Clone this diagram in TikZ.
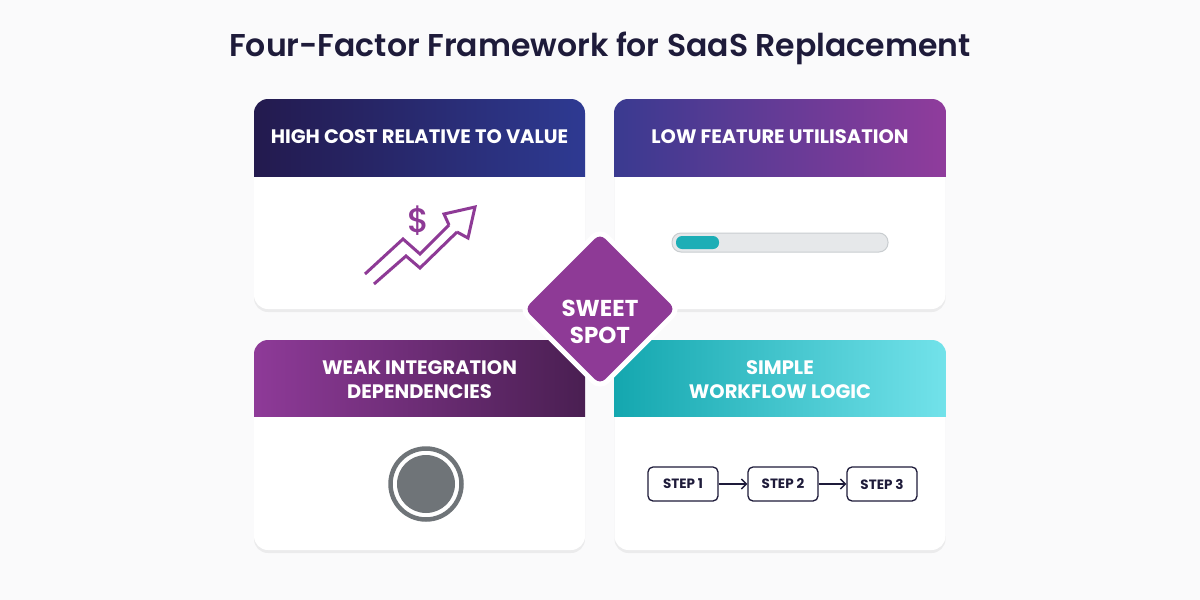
\documentclass[tikz,border=0pt]{standalone}
\usepackage{fontspec}
\setmainfont{Poppins}
\usetikzlibrary{shadows,shapes.geometric,arrows.meta}
\definecolor{ink}{HTML}{1E1B3A}
\definecolor{plum}{HTML}{8E3A96}
\definecolor{bgc}{HTML}{FAFAFB}
\definecolor{ca}{HTML}{231A4E}\definecolor{cb}{HTML}{2E3A92}
\definecolor{cc}{HTML}{3A3A90}\definecolor{cd}{HTML}{903C9C}
\definecolor{ce}{HTML}{8E3A98}\definecolor{cf}{HTML}{4A1F52}
\definecolor{cg}{HTML}{14A7AF}\definecolor{ch}{HTML}{72E2EA}
\definecolor{barbg}{HTML}{E6E8EA}\definecolor{barbd}{HTML}{C9CDD0}
\definecolor{barfill}{HTML}{1DAEB6}\definecolor{greyc}{HTML}{6F7478}
\tikzset{
 card/.style={draw=none,fill=white,rounded corners=14pt,minimum width=331pt,minimum height=210pt,
   drop shadow={shadow xshift=0pt,shadow yshift=-3pt,opacity=0.12}},
 htext/.style={text=white,font=\bfseries\fontsize{19.5}{24}\selectfont,align=center},
 stepbox/.style={draw=ink,line width=1.3pt,rounded corners=5pt,minimum width=70pt,minimum height=34pt,font=\bfseries\fontsize{13.5}{15}\selectfont,text=ink},
}
\begin{document}
\begin{tikzpicture}[x=1pt,y=-1pt]
\fill[bgc] (0,0) rectangle (1200,600);
\useasboundingbox (0,0) rectangle (1200,600);
\node[text=ink,font=\fontspec{Poppins SemiBold}\fontsize{31.5}{35}\selectfont] (title) at (600,48) {Four-Factor Framework for SaaS Replacement};
% cards
\node[card] (tl) at (419.5,204) {};
\node[card] (tr) at (780,204) {};
\node[card] (bl) at (419.5,445) {};
\node[card] (br) at (780,445) {};
\begin{scope}\clip[rounded corners=14pt] (254,99) rectangle (585,309);
 \shade[left color=ca,right color=cb] (254,99) rectangle (585,176);\end{scope}
\begin{scope}\clip[rounded corners=14pt] (614,99) rectangle (946,309);
 \shade[left color=cc,right color=cd] (614,99) rectangle (946,176);\end{scope}
\begin{scope}\clip[rounded corners=14pt] (254,340) rectangle (585,550);
 \shade[left color=ce,right color=cf] (254,340) rectangle (585,416);\end{scope}
\begin{scope}\clip[rounded corners=14pt] (614,340) rectangle (946,550);
 \shade[left color=cg,right color=ch] (614,340) rectangle (946,416);\end{scope}
\node[htext] (h1) at (419.5,137) {HIGH COST RELATIVE TO VALUE};
\node[htext] (h2) at (780,137) {LOW FEATURE UTILISATION};
\node[htext] (h3) at (419.5,380) {WEAK INTEGRATION\\DEPENDENCIES};
\node[htext] (h4) at (780,380) {SIMPLE\\WORKFLOW LOGIC};
% chart icon
\node[text=plum,font=\fontspec{Poppins Medium}\fontsize{34}{34}\selectfont] (dollar) at (419,221) {\$};
\draw[plum,line width=3pt,line join=miter] (365,274)--(403,239)--(420,254)--(449,225);
\draw[plum,line width=3pt,line join=miter] (374,284)--(406,256)--(420,268)--(457,232);
\draw[plum,line width=3pt,line join=miter] (449,225)--(444,214)--(475,207)--(468,238)--(457,232);
% progress bar
\draw[fill=barbg,draw=barbd,line width=1pt,rounded corners=9pt] (672,233) rectangle (888,252);
\fill[barfill,rounded corners=6pt] (676,236) rectangle (719,249);
% circle
\draw[greyc,line width=4.5pt] (426,484) circle (35.5pt);
\fill[greyc] (426,484) circle (29pt);
% steps
\node[stepbox] (s1) at (683,484) {STEP 1};
\node[stepbox] (s2) at (783,484) {STEP 2};
\node[stepbox] (s3) at (882,484) {STEP 3};
\draw[ink,line width=1.4pt,-{Straight Barb[length=5pt]}] (s1)--(s2);
\draw[ink,line width=1.4pt,-{Straight Barb[length=5pt]}] (s2)--(s3);
% diamond
\node[draw=white,line width=5pt,fill=plum,rounded corners=10pt,minimum width=112pt,minimum height=112pt,rotate=45] (dia) at (600,309) {};
\node[text=white,font=\bfseries\fontsize{23}{27}\selectfont,align=center] (sweet) at (600,322) {SWEET\\SPOT};
\end{tikzpicture}
\end{document}
